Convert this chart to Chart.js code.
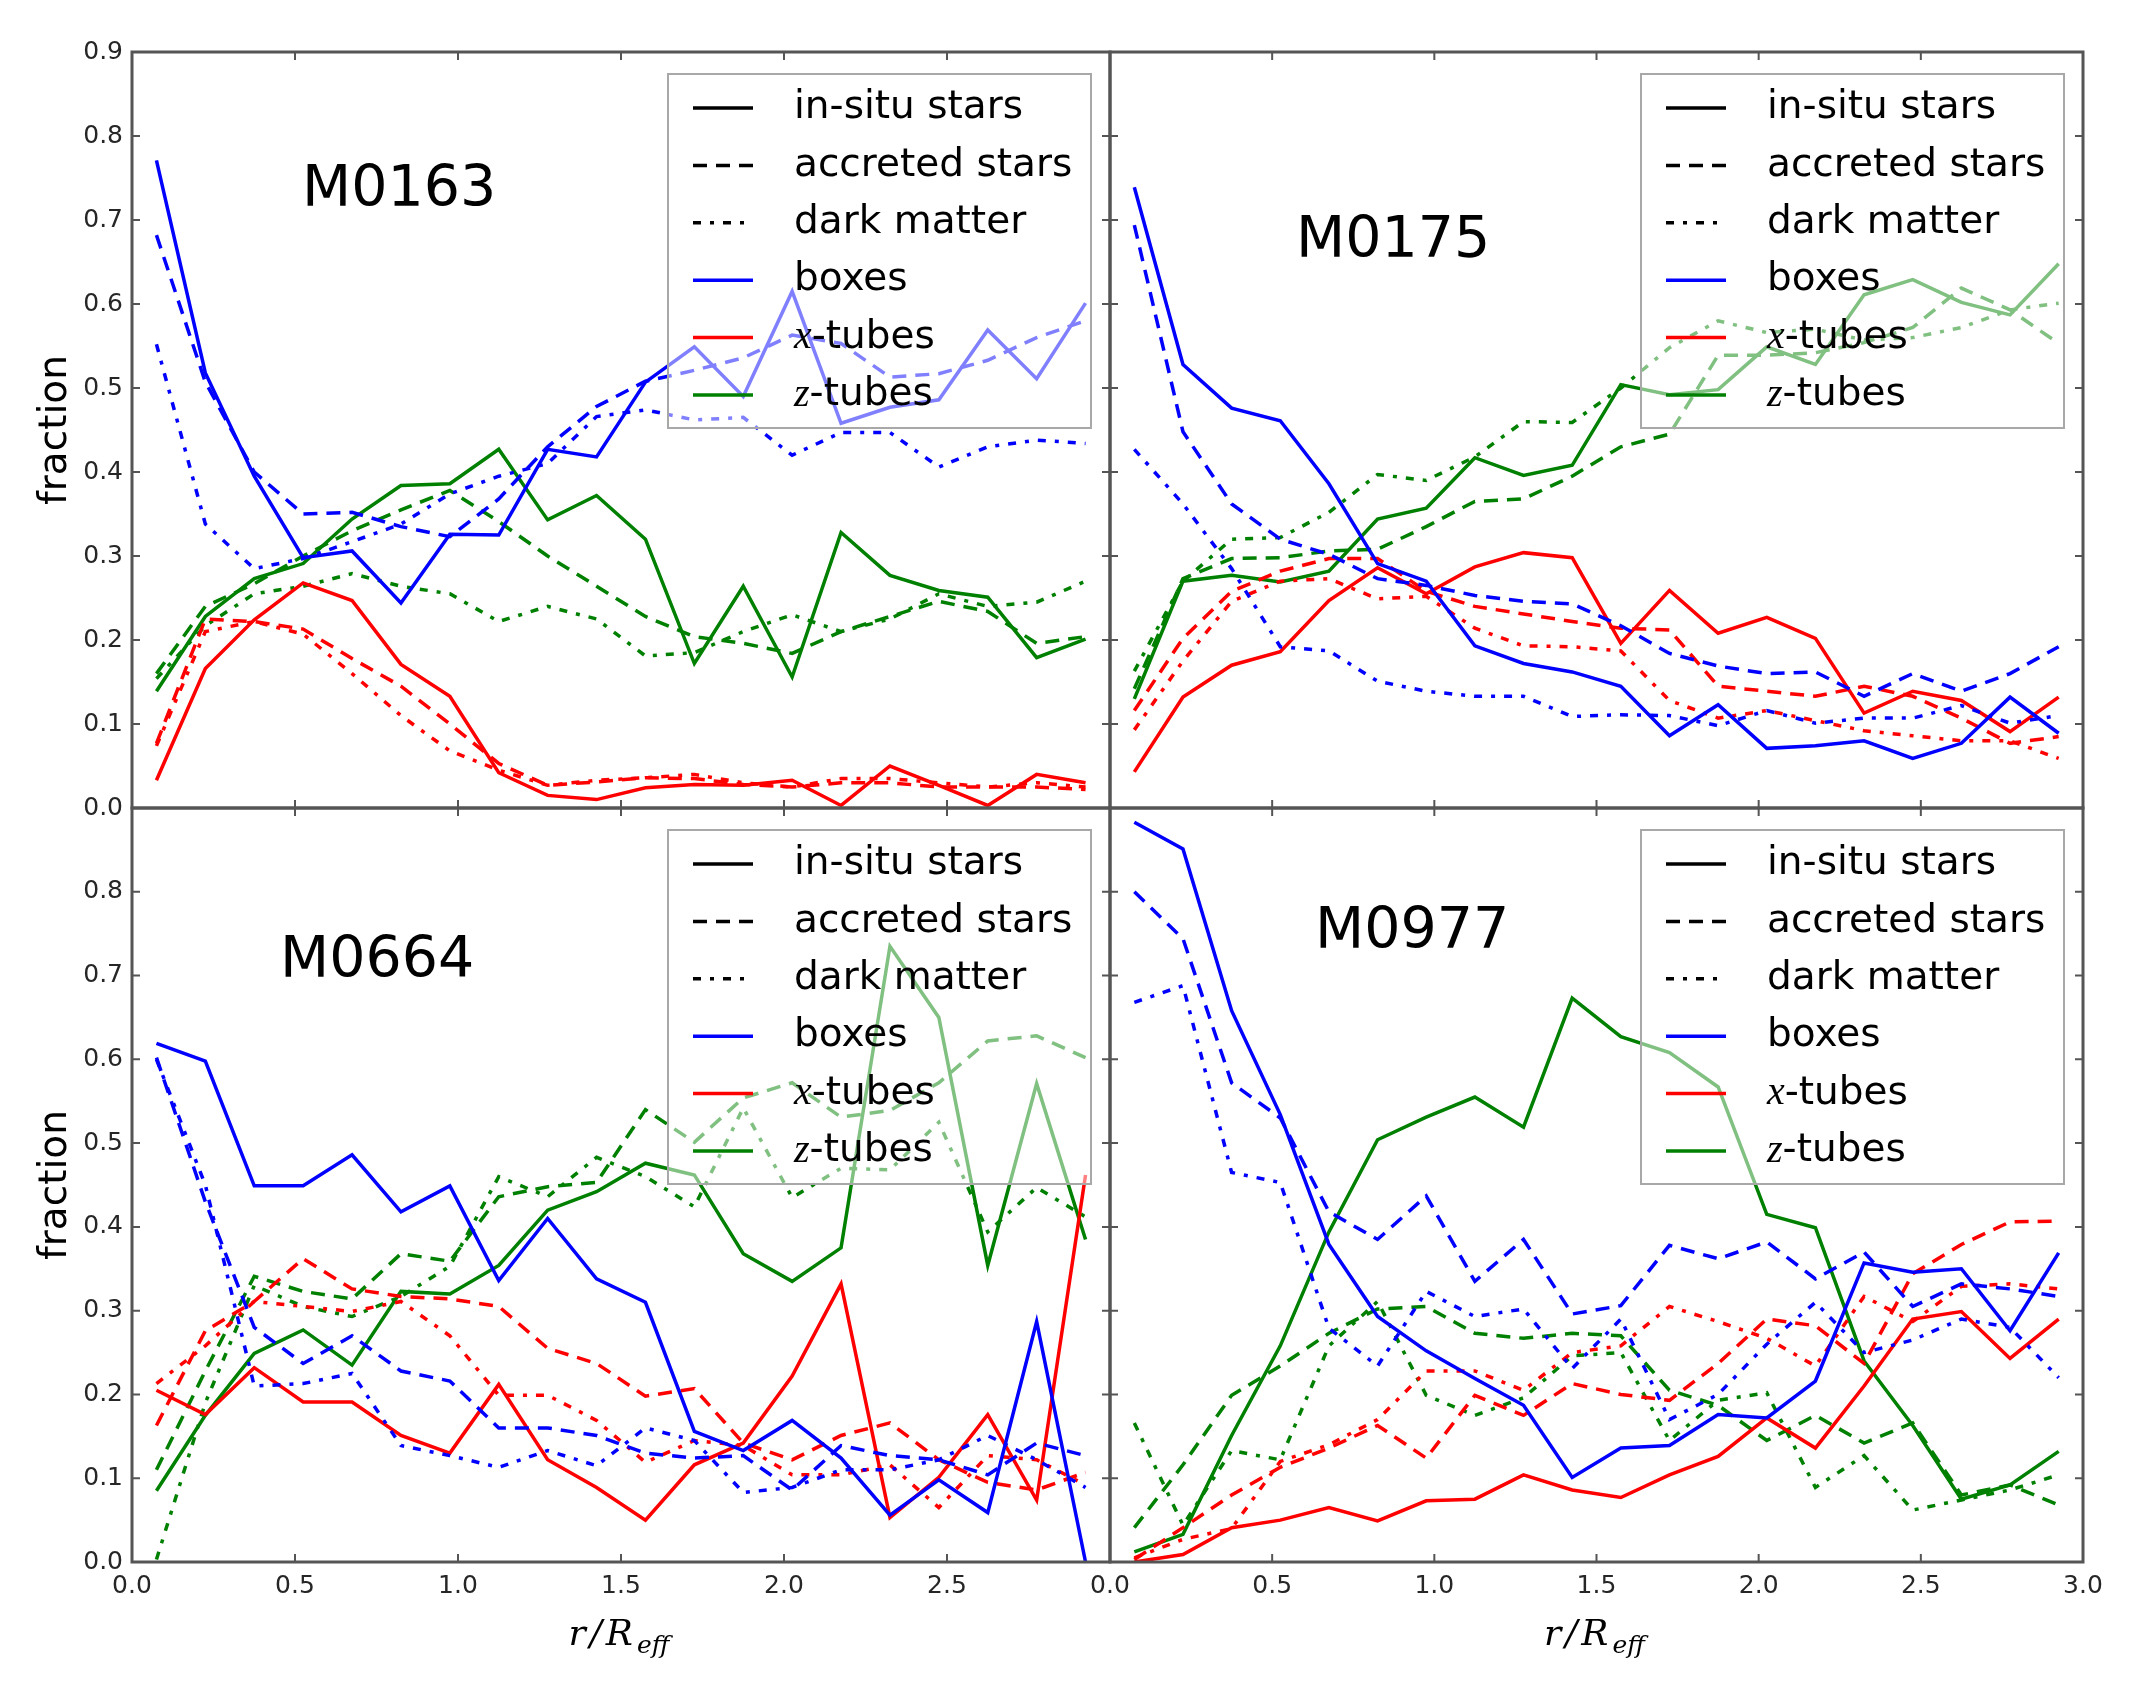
<!DOCTYPE html>
<html>
<head>
    <title>Orbit fractions M0163 / M0175 / M0664 / M0977</title>
    <script src="https://cdn.jsdelivr.net/npm/chart.js"></script>
    <style>
        body {
            margin: 0;
            background: #fff;
        }
        #fig {
            position: relative;
            width: 2135px;
            height: 1691px;
            background: #fff;
        }
        #fig canvas {
            position: absolute;
            left: 0;
            top: 0;
        }
    </style>
</head>
<body>
<div id="fig">
    <canvas id="pA" width="2135" height="1691"></canvas>
    <canvas id="pB" width="2135" height="1691"></canvas>
    <canvas id="pC" width="2135" height="1691"></canvas>
    <canvas id="pD" width="2135" height="1691"></canvas>
</div>
<script>
    // radial bins (r / R_eff)
    const rBins = [0.075, 0.225, 0.375, 0.525, 0.675, 0.825, 0.975, 1.125, 1.275, 1.425,
                   1.575, 1.725, 1.875, 2.025, 2.175, 2.325, 2.475, 2.625, 2.775, 2.925];
    const xTicks = [0, 0.5, 1.0, 1.5, 2.0, 2.5, 3.0];
    const yTicks = [0, 0.1, 0.2, 0.3, 0.4, 0.5, 0.6, 0.7, 0.8, 0.9];
    const legendLabels = ['in-situ stars', 'accreted stars', 'dark matter', 'boxes', '-tubes', '-tubes'];

    // M0163
    const m0163InsituBoxes = [0.771, 0.518, 0.395, 0.298, 0.306, 0.244, 0.326, 0.325, 0.427, 0.418, 0.507, 0.549, 0.490, 0.615, 0.458, 0.477, 0.486, 0.569, 0.511, 0.601];
    const m0163AccBoxes    = [0.682, 0.507, 0.400, 0.350, 0.352, 0.335, 0.323, 0.368, 0.430, 0.478, 0.508, 0.521, 0.536, 0.563, 0.553, 0.513, 0.517, 0.533, 0.560, 0.580];
    const m0163DmBoxes     = [0.552, 0.338, 0.285, 0.297, 0.317, 0.338, 0.374, 0.395, 0.410, 0.466, 0.474, 0.462, 0.465, 0.420, 0.447, 0.447, 0.406, 0.430, 0.438, 0.434];
    const m0163InsituX     = [0.033, 0.166, 0.224, 0.268, 0.247, 0.171, 0.133, 0.042, 0.015, 0.010, 0.024, 0.028, 0.027, 0.033, 0.003, 0.050, 0.027, 0.003, 0.040, 0.030];
    const m0163AccX        = [0.077, 0.225, 0.222, 0.213, 0.178, 0.145, 0.100, 0.053, 0.027, 0.031, 0.036, 0.035, 0.028, 0.025, 0.030, 0.030, 0.025, 0.025, 0.025, 0.022];
    const m0163DmX         = [0.074, 0.210, 0.222, 0.207, 0.160, 0.110, 0.068, 0.045, 0.027, 0.033, 0.036, 0.040, 0.030, 0.025, 0.035, 0.035, 0.030, 0.025, 0.030, 0.025];
    const m0163InsituZ     = [0.139, 0.228, 0.273, 0.291, 0.344, 0.384, 0.386, 0.427, 0.343, 0.372, 0.320, 0.172, 0.264, 0.156, 0.328, 0.277, 0.259, 0.251, 0.179, 0.201];
    const m0163AccZ        = [0.160, 0.240, 0.267, 0.300, 0.330, 0.355, 0.378, 0.341, 0.300, 0.264, 0.228, 0.204, 0.196, 0.184, 0.210, 0.228, 0.246, 0.234, 0.196, 0.204];
    const m0163DmZ         = [0.154, 0.217, 0.255, 0.264, 0.279, 0.264, 0.255, 0.222, 0.240, 0.225, 0.181, 0.185, 0.210, 0.230, 0.210, 0.225, 0.255, 0.240, 0.245, 0.270];

    // M0175
    const m0175InsituBoxes = [0.739, 0.528, 0.476, 0.461, 0.386, 0.291, 0.270, 0.193, 0.172, 0.162, 0.145, 0.086, 0.123, 0.071, 0.074, 0.080, 0.059, 0.077, 0.132, 0.089];
    const m0175AccBoxes    = [0.694, 0.448, 0.362, 0.320, 0.302, 0.273, 0.265, 0.253, 0.246, 0.243, 0.217, 0.184, 0.169, 0.160, 0.162, 0.133, 0.160, 0.139, 0.160, 0.192];
    const m0175DmBoxes     = [0.427, 0.362, 0.285, 0.192, 0.187, 0.151, 0.139, 0.133, 0.133, 0.109, 0.111, 0.110, 0.098, 0.116, 0.101, 0.107, 0.107, 0.122, 0.101, 0.110];
    const m0175InsituX     = [0.043, 0.132, 0.170, 0.186, 0.247, 0.286, 0.255, 0.287, 0.304, 0.298, 0.196, 0.259, 0.208, 0.227, 0.202, 0.113, 0.139, 0.128, 0.091, 0.132];
    const m0175AccX        = [0.116, 0.202, 0.258, 0.282, 0.297, 0.297, 0.258, 0.240, 0.231, 0.222, 0.214, 0.212, 0.145, 0.139, 0.133, 0.145, 0.133, 0.107, 0.077, 0.085];
    const m0175DmX         = [0.093, 0.175, 0.246, 0.270, 0.273, 0.249, 0.252, 0.214, 0.193, 0.192, 0.187, 0.128, 0.107, 0.116, 0.104, 0.092, 0.086, 0.080, 0.080, 0.059];
    const m0175InsituZ     = [0.130, 0.270, 0.277, 0.269, 0.282, 0.344, 0.357, 0.417, 0.396, 0.408, 0.504, 0.492, 0.498, 0.549, 0.528, 0.611, 0.629, 0.602, 0.587, 0.648];
    const m0175AccZ        = [0.142, 0.273, 0.297, 0.298, 0.306, 0.308, 0.335, 0.365, 0.368, 0.395, 0.430, 0.445, 0.539, 0.539, 0.542, 0.554, 0.572, 0.619, 0.593, 0.553];
    const m0175DmZ         = [0.163, 0.270, 0.320, 0.322, 0.352, 0.397, 0.390, 0.418, 0.460, 0.459, 0.500, 0.548, 0.580, 0.566, 0.570, 0.557, 0.560, 0.572, 0.593, 0.601];

    // M0664
    const m0664InsituBoxes = [0.619, 0.598, 0.449, 0.449, 0.486, 0.418, 0.449, 0.336, 0.410, 0.338, 0.310, 0.156, 0.133, 0.169, 0.124, 0.056, 0.098, 0.059, 0.287, 0.000];
    const m0664AccBoxes    = [0.602, 0.430, 0.280, 0.237, 0.270, 0.228, 0.216, 0.160, 0.160, 0.151, 0.130, 0.124, 0.127, 0.086, 0.139, 0.127, 0.122, 0.104, 0.142, 0.127];
    const m0664DmBoxes     = [0.600, 0.450, 0.210, 0.213, 0.225, 0.139, 0.127, 0.113, 0.133, 0.115, 0.160, 0.145, 0.083, 0.089, 0.110, 0.110, 0.122, 0.151, 0.122, 0.089];
    const m0664InsituX     = [0.205, 0.176, 0.232, 0.191, 0.191, 0.151, 0.130, 0.212, 0.122, 0.089, 0.050, 0.116, 0.142, 0.222, 0.332, 0.053, 0.101, 0.176, 0.074, 0.462];
    const m0664AccX        = [0.163, 0.276, 0.311, 0.362, 0.326, 0.317, 0.314, 0.305, 0.255, 0.237, 0.198, 0.207, 0.142, 0.122, 0.151, 0.166, 0.122, 0.095, 0.086, 0.107];
    const m0664DmX         = [0.213, 0.258, 0.311, 0.305, 0.299, 0.311, 0.270, 0.199, 0.199, 0.169, 0.119, 0.145, 0.139, 0.104, 0.104, 0.116, 0.065, 0.127, 0.122, 0.092];
    const m0664InsituZ     = [0.085, 0.175, 0.249, 0.277, 0.235, 0.323, 0.320, 0.354, 0.420, 0.442, 0.476, 0.462, 0.368, 0.335, 0.375, 0.735, 0.650, 0.354, 0.571, 0.385];
    const m0664AccZ        = [0.110, 0.228, 0.341, 0.323, 0.314, 0.368, 0.359, 0.436, 0.448, 0.453, 0.540, 0.501, 0.554, 0.572, 0.531, 0.539, 0.572, 0.622, 0.628, 0.602];
    const m0664DmZ         = [0.003, 0.190, 0.330, 0.305, 0.293, 0.317, 0.353, 0.460, 0.436, 0.483, 0.460, 0.424, 0.542, 0.435, 0.470, 0.468, 0.525, 0.394, 0.447, 0.412];

    // M0977
    const m0977InsituBoxes = [0.883, 0.851, 0.658, 0.534, 0.379, 0.293, 0.252, 0.219, 0.187, 0.101, 0.136, 0.139, 0.176, 0.172, 0.216, 0.357, 0.346, 0.350, 0.276, 0.369];
    const m0977AccBoxes    = [0.800, 0.744, 0.572, 0.530, 0.418, 0.385, 0.437, 0.335, 0.385, 0.296, 0.306, 0.378, 0.362, 0.382, 0.338, 0.370, 0.305, 0.332, 0.326, 0.317];
    const m0977DmBoxes     = [0.668, 0.688, 0.465, 0.453, 0.279, 0.234, 0.323, 0.293, 0.302, 0.231, 0.290, 0.170, 0.200, 0.260, 0.310, 0.250, 0.265, 0.290, 0.280, 0.220];
    const m0977InsituX     = [0.000, 0.009, 0.041, 0.050, 0.065, 0.049, 0.073, 0.075, 0.104, 0.086, 0.077, 0.104, 0.126, 0.172, 0.136, 0.210, 0.290, 0.299, 0.243, 0.290];
    const m0977AccX        = [0.003, 0.041, 0.080, 0.113, 0.136, 0.163, 0.124, 0.199, 0.175, 0.213, 0.200, 0.193, 0.237, 0.290, 0.282, 0.237, 0.344, 0.379, 0.406, 0.407];
    const m0977DmX         = [0.005, 0.027, 0.040, 0.120, 0.140, 0.170, 0.228, 0.228, 0.205, 0.250, 0.258, 0.305, 0.287, 0.267, 0.234, 0.317, 0.287, 0.329, 0.332, 0.326];
    const m0977InsituZ     = [0.012, 0.033, 0.151, 0.258, 0.394, 0.504, 0.531, 0.555, 0.519, 0.673, 0.627, 0.608, 0.567, 0.415, 0.399, 0.240, 0.163, 0.075, 0.092, 0.132];
    const m0977AccZ        = [0.041, 0.116, 0.199, 0.234, 0.273, 0.302, 0.305, 0.273, 0.267, 0.273, 0.270, 0.205, 0.187, 0.145, 0.175, 0.142, 0.166, 0.080, 0.092, 0.068];
    const m0977DmZ         = [0.166, 0.044, 0.133, 0.122, 0.258, 0.311, 0.199, 0.175, 0.196, 0.246, 0.250, 0.145, 0.193, 0.202, 0.089, 0.127, 0.062, 0.074, 0.086, 0.104];

    // styles
    const W = 2135, H = 1691;
    const Y_AXIS_W = 100, X_AXIS_H = 50;
    const BLUE = '#0000ff', RED = '#ff0000', GREEN = '#008000';
    const SOLID = [], DASHED = [14, 9], DASHDOT = [8, 9, 4, 9];
    const LW = 3.5;
    const TICK_FONT = { family: '"DejaVu Sans"', size: 25 };

    const panels = [
        { id: 'pA', name: 'M0163', area: { left: 132, top: 52, right: 1110, bottom: 808 }, nameAt: [170, 154],
          showY: true, hideTopY: false, showX: false, hideLastX: false,
          series: [m0163InsituBoxes, m0163AccBoxes, m0163DmBoxes, m0163InsituX, m0163AccX, m0163DmX, m0163InsituZ, m0163AccZ, m0163DmZ] },
        { id: 'pB', name: 'M0175', area: { left: 1110, top: 52, right: 2083, bottom: 808 }, nameAt: [186, 205],
          showY: false, hideTopY: false, showX: false, hideLastX: false,
          series: [m0175InsituBoxes, m0175AccBoxes, m0175DmBoxes, m0175InsituX, m0175AccX, m0175DmX, m0175InsituZ, m0175AccZ, m0175DmZ] },
        { id: 'pC', name: 'M0664', area: { left: 132, top: 808, right: 1110, bottom: 1562 }, nameAt: [148, 169],
          showY: true, hideTopY: true, showX: true, hideLastX: true,
          series: [m0664InsituBoxes, m0664AccBoxes, m0664DmBoxes, m0664InsituX, m0664AccX, m0664DmX, m0664InsituZ, m0664AccZ, m0664DmZ] },
        { id: 'pD', name: 'M0977', area: { left: 1110, top: 808, right: 2083, bottom: 1562 }, nameAt: [205, 140],
          showY: false, hideTopY: false, showX: true, hideLastX: false,
          series: [m0977InsituBoxes, m0977AccBoxes, m0977DmBoxes, m0977InsituX, m0977AccX, m0977DmX, m0977InsituZ, m0977AccZ, m0977DmZ] }
    ];

    const seriesColors = [BLUE, BLUE, BLUE, RED, RED, RED, GREEN, GREEN, GREEN];
    const seriesDashes = [SOLID, DASHED, DASHDOT, SOLID, DASHED, DASHDOT, SOLID, DASHED, DASHDOT];

    // legend rows: [line colour, dash, math prefix, label]
    const legendRows = [
        ['#000', SOLID, '', legendLabels[0]],
        ['#000', DASHED, '', legendLabels[1]],
        ['#000', DASHDOT, '', legendLabels[2]],
        [BLUE, SOLID, '', legendLabels[3]],
        [RED, SOLID, 'x', legendLabels[4]],
        [GREEN, SOLID, 'z', legendLabels[5]]
    ];

    // frame, inward ticks, legend box, panel name, axis titles
    const panelDecor = {
        id: 'panelDecor',
        afterDatasetsDraw(chart, args, opts) {
            const ctx = chart.ctx, a = chart.chartArea;
            const xs = chart.scales.x, ys = chart.scales.y;
            ctx.save();

            // legend (semi transparent, like matplotlib framealpha)
            const bw = 423, bh = 354;
            const bx = a.right - 19 - bw, by = a.top + 22;
            ctx.fillStyle = 'rgba(255,255,255,0.5)';
            ctx.fillRect(bx, by, bw, bh);
            ctx.strokeStyle = '#a8a8a8';
            ctx.lineWidth = 2;
            ctx.strokeRect(bx, by, bw, bh);
            legendRows.forEach((row, i) => {
                const cy = by + 34 + i * 57.4;
                ctx.beginPath();
                ctx.setLineDash(row[1]);
                ctx.strokeStyle = row[0];
                ctx.lineWidth = LW;
                ctx.moveTo(bx + 25, cy);
                ctx.lineTo(bx + 85, cy);
                ctx.stroke();
                ctx.setLineDash([]);
                ctx.fillStyle = '#000';
                ctx.textAlign = 'left';
                ctx.textBaseline = 'middle';
                let tx = bx + 126;
                if (row[2]) {
                    ctx.font = 'italic 40px "Liberation Serif"';
                    ctx.fillText(row[2], tx, cy);
                    tx += ctx.measureText(row[2]).width;
                }
                ctx.font = '39px "DejaVu Sans"';
                ctx.fillText(row[3], tx, cy);
            });

            // panel name
            ctx.fillStyle = '#000';
            ctx.font = '57px "DejaVu Sans"';
            ctx.textBaseline = 'alphabetic';
            ctx.fillText(opts.name, a.left + opts.nameAt[0], a.top + opts.nameAt[1]);

            // frame
            ctx.strokeStyle = '#555';
            ctx.lineWidth = 3;
            ctx.strokeRect(a.left, a.top, a.right - a.left, a.bottom - a.top);

            // inward ticks on all sides
            ctx.lineWidth = 2;
            ctx.beginPath();
            xTicks.forEach(v => {
                const px = xs.getPixelForValue(v);
                ctx.moveTo(px, a.bottom); ctx.lineTo(px, a.bottom - 8);
                ctx.moveTo(px, a.top); ctx.lineTo(px, a.top + 8);
            });
            yTicks.forEach(v => {
                const py = ys.getPixelForValue(v);
                ctx.moveTo(a.left, py); ctx.lineTo(a.left + 8, py);
                ctx.moveTo(a.right, py); ctx.lineTo(a.right - 8, py);
            });
            ctx.stroke();

            // y title
            if (opts.showY) {
                ctx.save();
                ctx.translate(66, (a.top + a.bottom) / 2);
                ctx.rotate(-Math.PI / 2);
                ctx.textAlign = 'center';
                ctx.textBaseline = 'alphabetic';
                ctx.font = '39px "DejaVu Sans"';
                ctx.fillStyle = '#000';
                ctx.fillText('fraction', 0, 0);
                ctx.restore();
            }

            // x title r/R_eff
            if (opts.showX) {
                const cx = (a.left + a.right) / 2, base = 1645;
                const parts = [['r', 36, 0], ['/', 36, 0], ['R', 36, 0], ['eff', 25, 8]];
                let total = 0;
                parts.forEach(p => { ctx.font = 'italic ' + p[1] + 'px "DejaVu Serif"'; total += ctx.measureText(p[0]).width + 4; });
                let x = cx - total / 2;
                ctx.textAlign = 'left';
                ctx.fillStyle = '#000';
                parts.forEach(p => {
                    ctx.font = 'italic ' + p[1] + 'px "DejaVu Serif"';
                    ctx.fillText(p[0], x, base + p[2]);
                    x += ctx.measureText(p[0]).width + 4;
                });
            }
            ctx.restore();
        }
    };

    panels.forEach(p => {
        const datasets = p.series.map((vals, i) => ({
            data: rBins.map((r, j) => ({ x: r, y: vals[j] })),
            borderColor: seriesColors[i],
            borderDash: seriesDashes[i],
            borderWidth: LW,
            pointRadius: 0,
            tension: 0,
            fill: false
        }));

        new Chart(document.getElementById(p.id), {
            type: 'line',
            data: { datasets: datasets },
            options: {
                responsive: false,
                animation: false,
                events: [],
                layout: {
                    padding: {
                        left: p.area.left - Y_AXIS_W,
                        top: p.area.top,
                        right: W - p.area.right,
                        bottom: H - p.area.bottom - X_AXIS_H
                    }
                },
                scales: {
                    x: {
                        type: 'linear',
                        min: 0,
                        max: 3,
                        grid: { display: false, drawTicks: false },
                        border: { display: false },
                        afterBuildTicks: s => { s.ticks = xTicks.map(v => ({ value: v })); },
                        afterFit: s => { s.height = X_AXIS_H; },
                        ticks: {
                            autoSkip: false,
                            maxRotation: 0,
                            padding: 9,
                            color: '#262626',
                            font: TICK_FONT,
                            callback: v => {
                                if (!p.showX) return '';
                                if (p.hideLastX && v > 2.9) return '';
                                return v.toFixed(1);
                            }
                        }
                    },
                    y: {
                        type: 'linear',
                        min: 0,
                        max: 0.9,
                        grid: { display: false, drawTicks: false },
                        border: { display: false },
                        afterBuildTicks: s => { s.ticks = yTicks.map(v => ({ value: v })); },
                        afterFit: s => { s.width = Y_AXIS_W; },
                        ticks: {
                            autoSkip: false,
                            padding: 9,
                            color: '#262626',
                            font: TICK_FONT,
                            callback: v => {
                                if (!p.showY) return '';
                                if (p.hideTopY && v > 0.85) return '';
                                return v.toFixed(1);
                            }
                        }
                    }
                },
                plugins: {
                    legend: { display: false },
                    tooltip: { enabled: false },
                    panelDecor: { name: p.name, nameAt: p.nameAt, showY: p.showY, showX: p.showX }
                }
            },
            plugins: [panelDecor]
        });
    });
</script>
</body>
</html>
